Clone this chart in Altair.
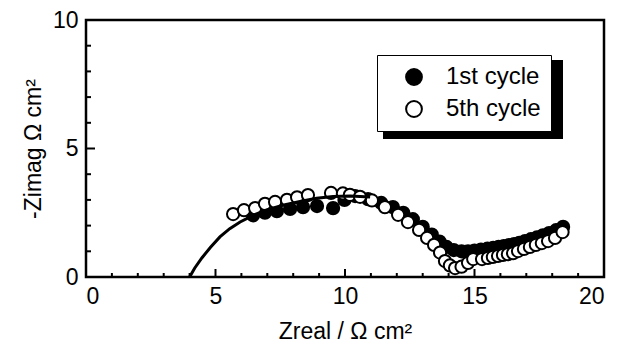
import altair as alt
import pandas as pd

FONT = "Liberation Sans"

# 1st cycle (filled circles)
c1_x = [6.45, 6.91, 7.37, 7.88, 8.38, 8.92, 9.54, 9.98, 10.39, 10.89, 11.40, 11.85,
        12.25, 12.62, 13.00, 13.35, 13.65, 13.92, 14.20, 14.50, 14.75, 15.00, 15.25,
        15.50, 15.72, 15.93, 16.13, 16.33, 16.53, 16.73, 16.95, 17.18, 17.41, 17.64,
        17.88, 18.15, 18.42]
c1_y = [2.40, 2.50, 2.56, 2.65, 2.72, 2.76, 2.68, 3.00, 3.15, 3.03, 2.88, 2.72,
        2.50, 2.25, 1.95, 1.65, 1.38, 1.17, 1.05, 1.00, 1.00, 1.03, 1.07,
        1.10, 1.13, 1.17, 1.20, 1.24, 1.28, 1.33, 1.40, 1.47, 1.54, 1.62,
        1.71, 1.82, 1.95]

# 5th cycle (open circles)
c5_x = [5.68, 6.10, 6.53, 6.91, 7.30, 7.76, 8.15, 8.57, 9.46, 9.92, 10.19, 10.58,
        11.04, 11.54, 12.05, 12.43, 12.86, 13.17, 13.44, 13.67, 13.86, 14.05, 14.25,
        14.50, 14.75, 14.95, 15.29, 15.52, 15.71, 15.91, 16.10, 16.29, 16.49, 16.68,
        16.91, 17.14, 17.37, 17.60, 17.84, 18.11, 18.40]
c5_y = [2.45, 2.60, 2.68, 2.85, 2.92, 3.00, 3.10, 3.19, 3.27, 3.25, 3.20, 3.12,
        2.98, 2.72, 2.42, 2.14, 1.83, 1.52, 1.25, 0.95, 0.62, 0.45, 0.35,
        0.40, 0.55, 0.70, 0.70, 0.74, 0.78, 0.82, 0.86, 0.89, 0.93, 1.01,
        1.09, 1.17, 1.25, 1.32, 1.40, 1.52, 1.75]

# fitted curve
fit_x = [4.00, 4.20, 4.48, 4.80, 5.17, 5.55, 5.95, 6.45, 6.98, 7.60, 8.26, 8.90,
         9.54, 10.20, 10.97]
fit_y = [0.00, 0.35, 0.75, 1.15, 1.56, 1.88, 2.14, 2.40, 2.61, 2.79, 2.94, 3.06,
         3.13, 3.15, 3.11]

x_ticks_minor = [1, 2, 3, 4, 6, 7, 8, 9, 11, 12, 13, 14, 16, 17, 18, 19]
x_ticks_major = [5, 10, 15]
y_ticks_minor = [1, 2, 3, 4, 6, 7, 8, 9]
y_ticks_major = [5]

series = ["1st cycle", "5th cycle"]

pts = pd.DataFrame(
    {"x": c1_x + c5_x, "y": c1_y + c5_y,
     "cycle": [series[0]] * len(c1_x) + [series[1]] * len(c5_x),
     "ord": list(range(len(c1_x) + len(c5_x)))})
fit = pd.DataFrame({"x": fit_x, "y": fit_y})

xs = alt.Scale(domain=[0, 20], nice=False, zero=False)
ys = alt.Scale(domain=[0, 10], nice=False, zero=False)

xax = alt.Axis(values=[0, 5, 10, 15, 20], title="Zreal / Ω cm²", ticks=False,
               domain=False, grid=False, labelPadding=8, titlePadding=12)
yax = alt.Axis(values=[0, 5, 10], title="-Zimag Ω cm²", ticks=False,
               domain=False, grid=False, labelPadding=8, titlePadding=7)

XLEN_MIN, XLEN_MAJ = 4 / 25.7, 8 / 25.7
YLEN_MIN, YLEN_MAJ = 5 / 25.9, 9 / 25.9

xt = pd.DataFrame({"x": x_ticks_minor + x_ticks_major,
                   "y0": [0.0] * (len(x_ticks_minor) + len(x_ticks_major)),
                   "y1": [XLEN_MIN] * len(x_ticks_minor) + [XLEN_MAJ] * len(x_ticks_major)})
yt = pd.DataFrame({"y": y_ticks_minor + y_ticks_major,
                   "x0": [0.0] * (len(y_ticks_minor) + len(y_ticks_major)),
                   "x1": [YLEN_MIN] * len(y_ticks_minor) + [YLEN_MAJ] * len(y_ticks_major)})

xtick = alt.Chart(xt).mark_rule(color="black", strokeWidth=2).encode(
    x=alt.X("x:Q", scale=xs, axis=xax),
    y=alt.Y("y0:Q", scale=ys, axis=yax),
    y2="y1:Q")
ytick = alt.Chart(yt).mark_rule(color="black", strokeWidth=2).encode(
    y=alt.Y("y:Q", scale=ys),
    x=alt.X("x0:Q", scale=xs),
    x2="x1:Q")

shadow = alt.Chart(alt.Data(values=[{}])).mark_rect(color="black").encode(
    x=alt.value(297), x2=alt.value(477), y=alt.value(40), y2=alt.value(119))

points = alt.Chart(pts).mark_point(filled=True, shape="circle", size=150,
                                   stroke="black", strokeWidth=2, opacity=1).encode(
    x=alt.X("x:Q", scale=xs),
    y=alt.Y("y:Q", scale=ys),
    fill=alt.Fill("cycle:N", scale=alt.Scale(domain=series, range=["black", "white"]),
                  legend=alt.Legend(title=None, orient="none", legendX=291, legendY=35,
                                    fillColor="white", strokeColor="black",
                                    padding=10, labelFontSize=24, labelFont=FONT,
                                    labelColor="black", symbolSize=250,
                                    symbolStrokeColor="black", symbolStrokeWidth=2,
                                    symbolType="circle", rowPadding=8,
                                    labelOffset=20, symbolOffset=15)),
    order="ord:Q")

line = alt.Chart(fit).mark_line(color="black", strokeWidth=3).encode(
    x=alt.X("x:Q", scale=xs),
    y=alt.Y("y:Q", scale=ys))

chart = alt.layer(xtick, ytick, shadow, points, line).properties(
    width=518, height=257,
    autosize=alt.AutoSizeParams(type="none"),
    padding={"left": 78, "top": 12, "right": 6, "bottom": 70},
).configure_view(stroke="black", strokeWidth=2.5).configure_axis(
    labelFont=FONT, titleFont=FONT, labelFontSize=23, titleFontSize=23,
    labelColor="black", titleColor="black", titleFontWeight="normal")

chart.save("out.html", embed_options={"renderer": "svg", "actions": False})
